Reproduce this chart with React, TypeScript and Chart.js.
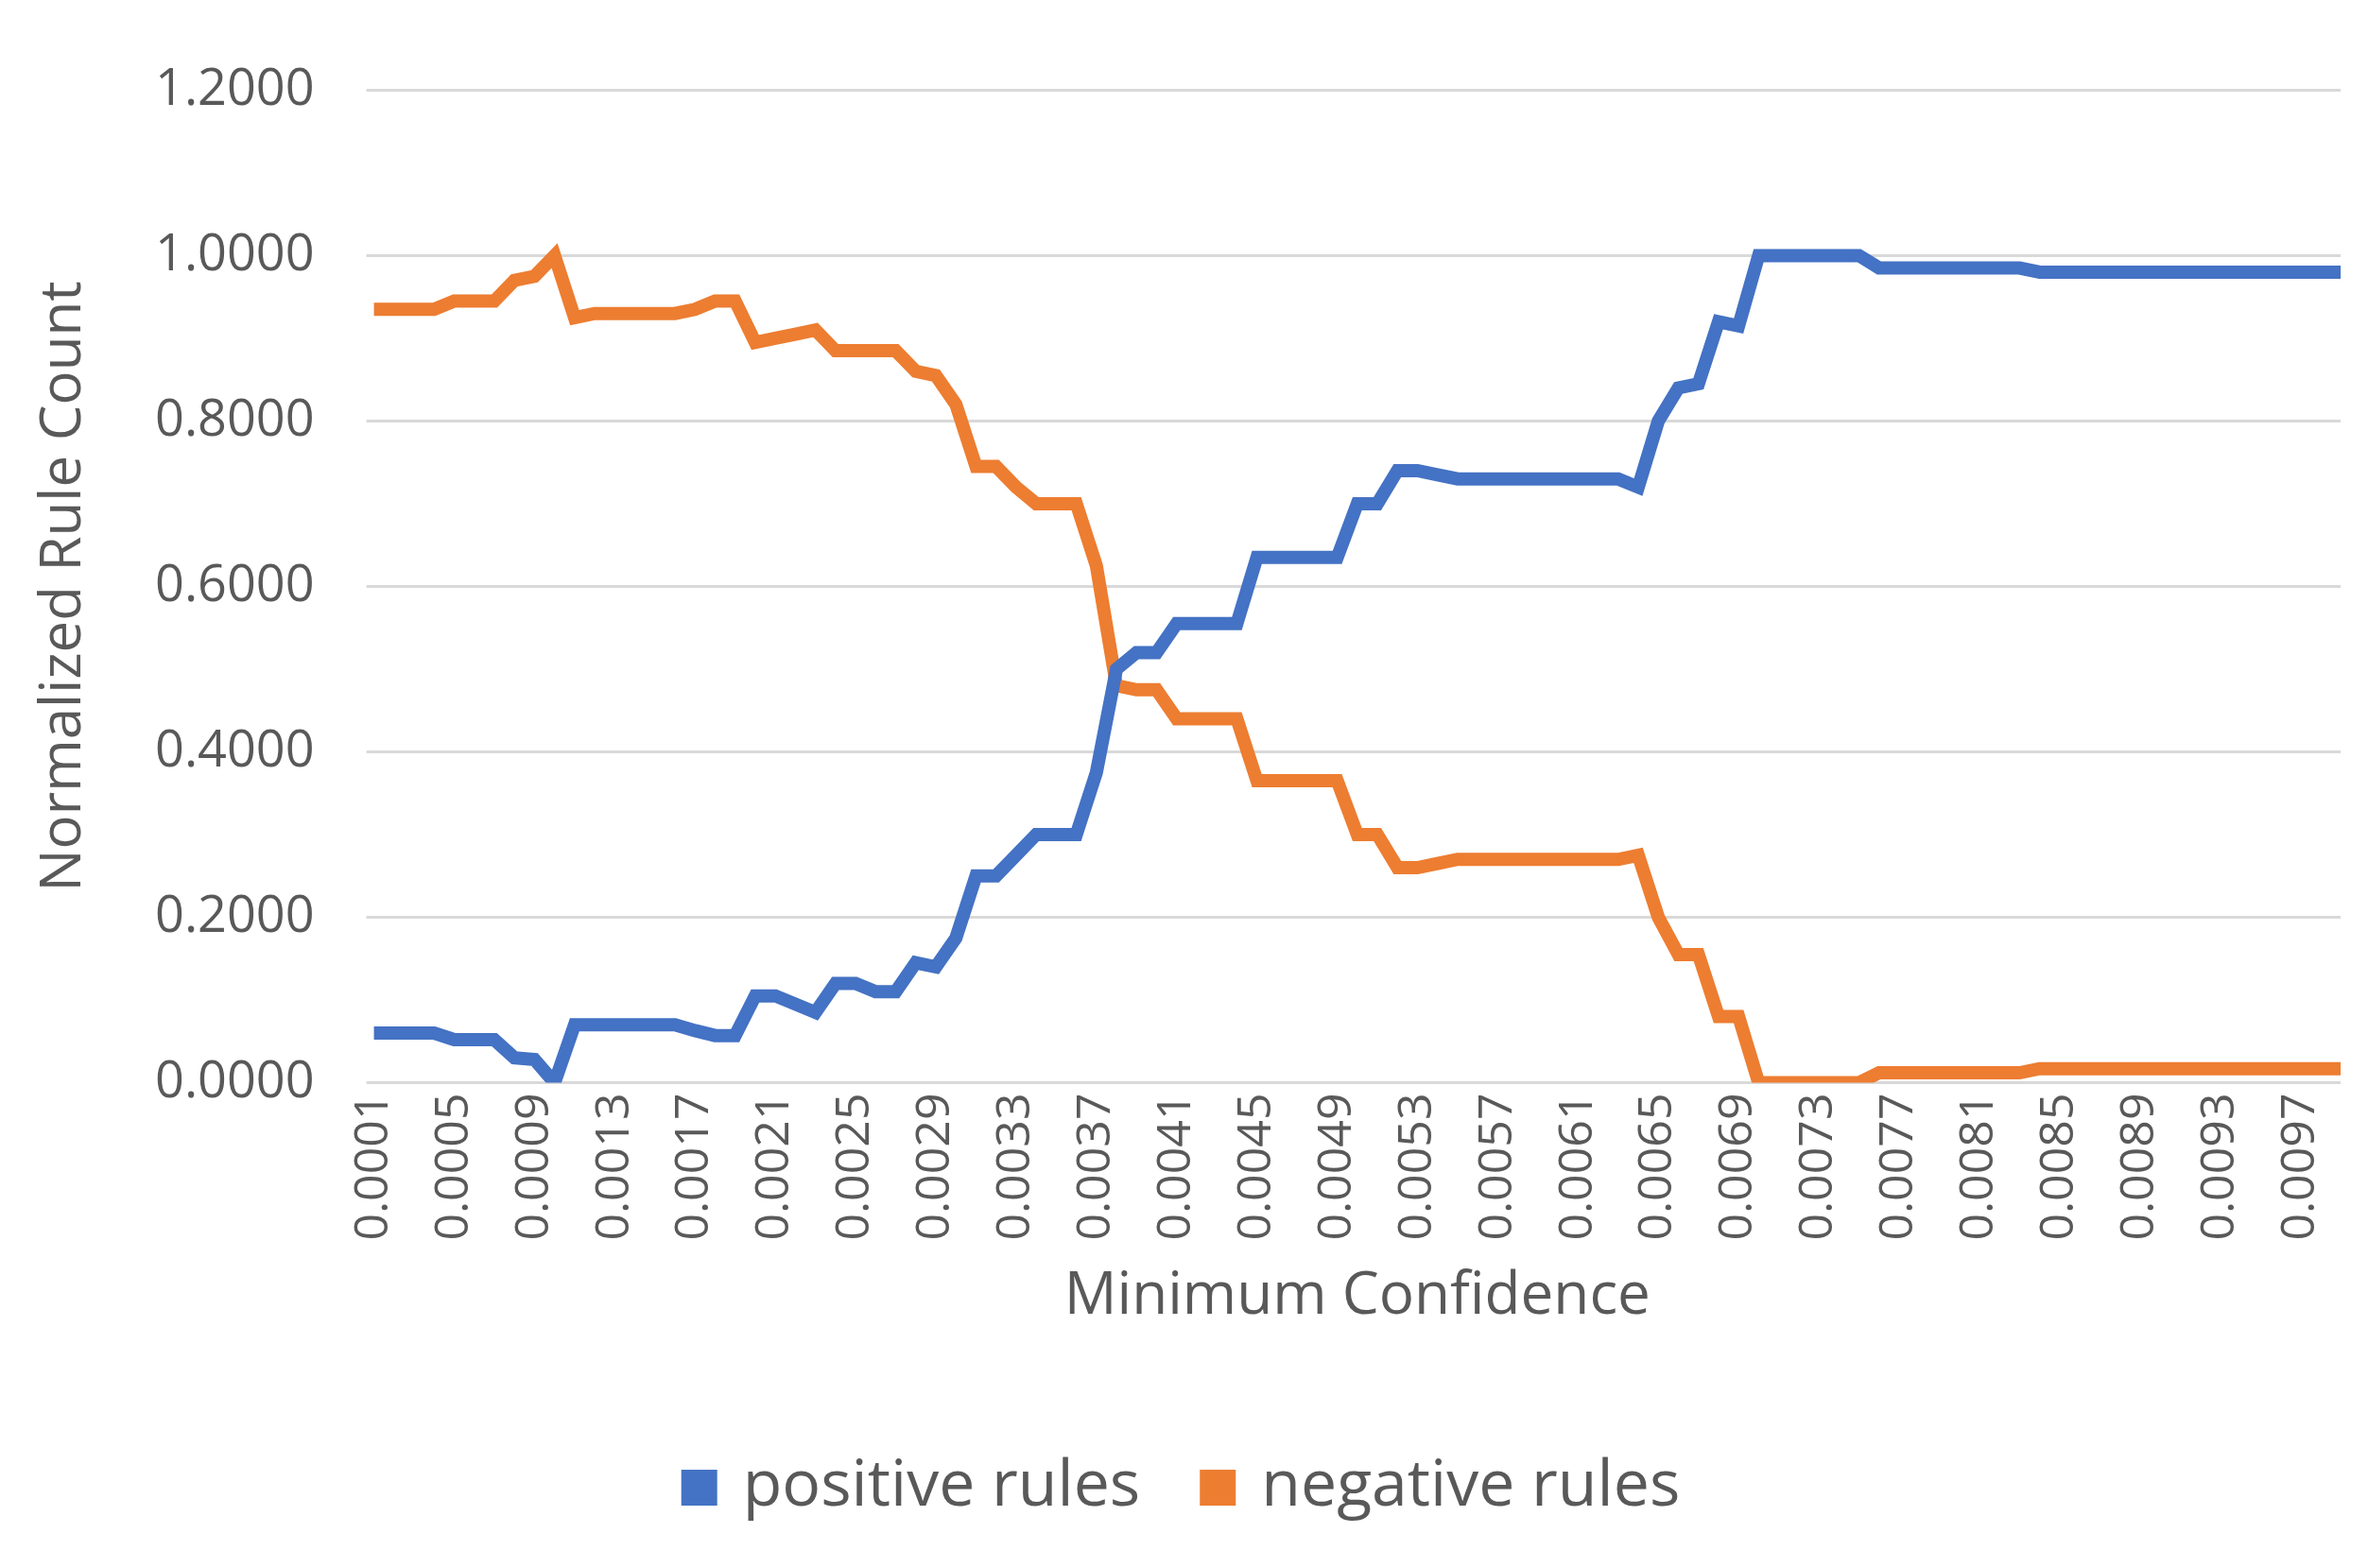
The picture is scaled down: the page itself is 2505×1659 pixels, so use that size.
import React, { useEffect, useRef } from "react";
import { Chart, registerables } from "chart.js";
Chart.register(...registerables);

const categories = [
"0.0001","0.0002","0.0003","0.0004","0.0005","0.0006","0.0007","0.0008","0.0009","0.0010",
"0.0011","0.0012","0.0013","0.0014","0.0015","0.0016","0.0017","0.0018","0.0019","0.0020",
"0.0021","0.0022","0.0023","0.0024","0.0025","0.0026","0.0027","0.0028","0.0029","0.0030",
"0.0031","0.0032","0.0033","0.0034","0.0035","0.0036","0.0037","0.0038","0.0039","0.0040",
"0.0041","0.0042","0.0043","0.0044","0.0045","0.0046","0.0047","0.0048","0.0049","0.0050",
"0.0051","0.0052","0.0053","0.0054","0.0055","0.0056","0.0057","0.0058","0.0059","0.0060",
"0.0061","0.0062","0.0063","0.0064","0.0065","0.0066","0.0067","0.0068","0.0069","0.0070",
"0.0071","0.0072","0.0073","0.0074","0.0075","0.0076","0.0077","0.0078","0.0079","0.0080",
"0.0081","0.0082","0.0083","0.0084","0.0085","0.0086","0.0087","0.0088","0.0089","0.0090",
"0.0091","0.0092","0.0093","0.0094","0.0095","0.0096","0.0097","0.0098","0.0099"];

const positiveRules = [
0.06,0.06,0.06,0.06,0.052,0.052,0.052,0.03,0.028,0.0,
0.07,0.07,0.07,0.07,0.07,0.07,0.063,0.057,0.057,0.105,
0.105,0.095,0.085,0.12,0.12,0.11,0.11,0.145,0.14,0.175,
0.25,0.25,0.275,0.30,0.30,0.30,0.375,0.50,0.52,0.52,
0.555,0.555,0.555,0.555,0.635,0.635,0.635,0.635,0.635,0.70,
0.70,0.74,0.74,0.735,0.73,0.73,0.73,0.73,0.73,0.73,
0.73,0.73,0.73,0.72,0.80,0.84,0.845,0.92,0.915,1.0,
1.0,1.0,1.0,1.0,1.0,0.985,0.985,0.985,0.985,0.985,
0.985,0.985,0.985,0.98,0.98,0.98,0.98,0.98,0.98,0.98,
0.98,0.98,0.98,0.98,0.98,0.98,0.98,0.98,0.98];

const negativeRules = [
0.935,0.935,0.935,0.935,0.945,0.945,0.945,0.97,0.975,1.0,
0.925,0.93,0.93,0.93,0.93,0.93,0.935,0.945,0.945,0.895,
0.9,0.905,0.91,0.885,0.885,0.885,0.885,0.86,0.855,0.82,
0.745,0.745,0.72,0.70,0.70,0.70,0.625,0.48,0.475,0.475,
0.44,0.44,0.44,0.44,0.365,0.365,0.365,0.365,0.365,0.30,
0.30,0.26,0.26,0.265,0.27,0.27,0.27,0.27,0.27,0.27,
0.27,0.27,0.27,0.275,0.20,0.155,0.155,0.08,0.08,0.0,
0.0,0.0,0.0,0.0,0.0,0.012,0.012,0.012,0.012,0.012,
0.012,0.012,0.012,0.017,0.017,0.017,0.017,0.017,0.017,0.017,
0.017,0.017,0.017,0.017,0.017,0.017,0.017,0.017,0.017];

const gray = "#595959";
const font = "'Open Sans', 'DejaVu Sans', sans-serif";

export default function App() {
  const ref = useRef<HTMLCanvasElement>(null);
  useEffect(() => {
    const chart = new Chart(ref.current!, {
      type: "line",
      data: {
        labels: categories,
        datasets: [
          { label: "positive rules", data: positiveRules, borderColor: "#4472C4", backgroundColor: "#4472C4", borderWidth: 14, pointRadius: 0, pointStyle: "rect", tension: 0 },
          { label: "negative rules", data: negativeRules, borderColor: "#ED7D31", backgroundColor: "#ED7D31", borderWidth: 14, pointRadius: 0, pointStyle: "rect", tension: 0 },
        ],
      },
      options: {
        animation: false,
        responsive: false,
        layout: { padding: { left: 20, right: 20, top: 20, bottom: 30 } },
        plugins: {
          legend: {
            position: "bottom",
            labels: { usePointStyle: true, pointStyle: "rect", boxWidth: 24, boxHeight: 24, padding: 70, color: gray, font: { size: 68, family: font } },
          },
          tooltip: { enabled: false },
        },
        scales: {
          x: {
            grid: { display: false },
            border: { display: false },
            ticks: {
              color: gray, font: { size: 50, family: font },
              minRotation: 90, maxRotation: 90, autoSkip: false,
              callback: (v: any, i: number) => (i % 4 === 0 ? categories[i] : null),
            },
            title: { display: true, text: "Minimum Confidence", color: gray, font: { size: 62, family: font }, padding: { top: 20, bottom: 60 } },
          },
          y: {
            min: 0, max: 1.2,
            grid: { color: "#d9d9d9", lineWidth: 3 },
            border: { display: false },
            ticks: { stepSize: 0.2, color: gray, font: { size: 54, family: font }, padding: 55, callback: (v: any) => Number(v).toFixed(4) },
            title: { display: true, text: "Normalized Rule Count", color: gray, font: { size: 60, family: font }, padding: { bottom: 5 } },
          },
        },
      },
    });
    return () => chart.destroy();
  }, []);
  return <canvas ref={ref} width={2489} height={1640} />;
}
